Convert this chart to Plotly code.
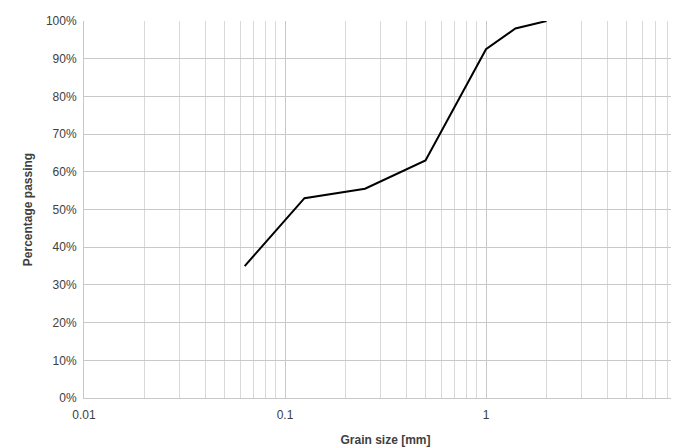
import plotly.graph_objects as go

grain_size = [0.063, 0.125, 0.25, 0.5, 1.0, 1.4, 2.0]
passing = [0.35, 0.53, 0.555, 0.63, 0.925, 0.98, 1.0]

fig = go.Figure()
fig.add_trace(go.Scatter(x=grain_size, y=passing, mode='lines',
                         line=dict(color='black', width=2), showlegend=False))

fig.update_xaxes(type='log', range=[-2, 1], automargin=False,
                 tickvals=[0.01, 0.1, 1, 10], ticktext=['0.01', '0.1', '1', '10'],
                 showgrid=True, gridcolor='#c8c8c8', gridwidth=1,
                 minor=dict(showgrid=True, gridcolor='#d9d9d9', tickvals=[a*b for b in [0.01, 0.1, 1] for a in range(2, 10)]),
                 showline=True, linecolor='#c8c8c8', ticks='', ticklabelstandoff=6,
                 title=dict(text='<b>Grain size [mm]</b>', standoff=14, font=dict(size=12)))
fig.update_yaxes(range=[0, 1], dtick=0.1, tickformat='.0%', automargin=False,
                 showgrid=True, gridcolor='#c8c8c8', zeroline=False,
                 showline=True, linecolor='#c8c8c8', ticks='', ticklabelstandoff=4,
                 title=dict(text='<b>Percentage passing</b>', standoff=10, font=dict(size=12)))

fig.update_layout(width=679, height=448, plot_bgcolor='white', paper_bgcolor='white',
                  margin=dict(l=76, r=0, t=13, b=58),
                  font=dict(family='Liberation Sans', size=12, color='#404040'))
fig.write_html('out.html')
